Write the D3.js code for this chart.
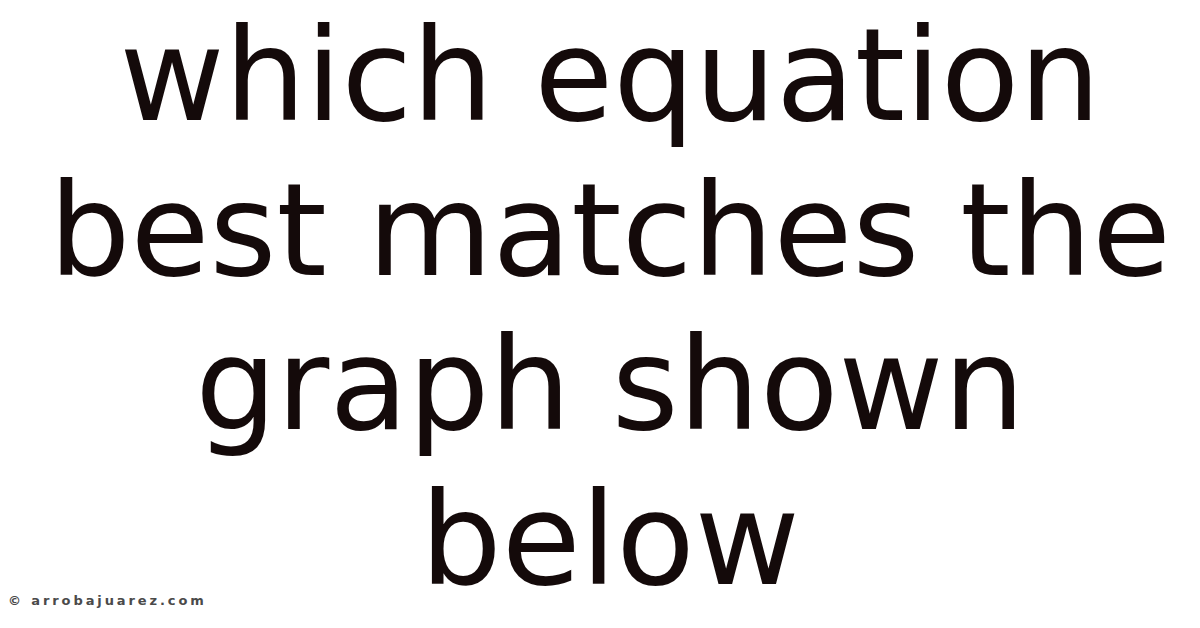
<!DOCTYPE html>
<html>
<head>
<meta charset="utf-8">
<script src="https://cdn.jsdelivr.net/npm/d3@7"></script>
<style>
  html, body { margin: 0; padding: 0; background: #fff; }
</style>
</head>
<body>
<div id="card"></div>
<script>
// title lines, top to bottom
const titleLines = ["which equation", "best matches the", "graph shown", "below"];
const watermark = ["\u00a9 arrobajuarez.com"];

const width = 1200, height = 628;

const svg = d3.select("#card")
	.append("svg")
	.attr("width", width)
	.attr("height", height);

svg.append("rect")
	.attr("width", width)
	.attr("height", height)
	.attr("fill", "#ffffff");

// baseline of each line
const y = d3.scalePoint()
	.domain(d3.range(titleLines.length))
	.range([120, 584]);

svg.append("g")
	.selectAll("text")
	.data(titleLines)
	.join("text")
	.attr("x", 610)
	.attr("y", (d, i) => y(i))
	.attr("text-anchor", "middle")
	.style("font-family", "'DejaVu Sans', sans-serif")
	.style("font-size", "128.4px")
	.attr("fill", "#140a0a")
	.text(d => d);

// small credit in the corner
svg.append("g")
	.selectAll("text")
	.data(watermark)
	.join("text")
	.attr("x", 8)
	.attr("y", 605)
	.style("font-family", "'DejaVu Sans', sans-serif")
	.style("font-size", "13px")
	.style("font-weight", "bold")
	.style("letter-spacing", "2.9px")
	.attr("fill", "#4a4a4a")
	.text(d => d);
</script>
</body>
</html>
